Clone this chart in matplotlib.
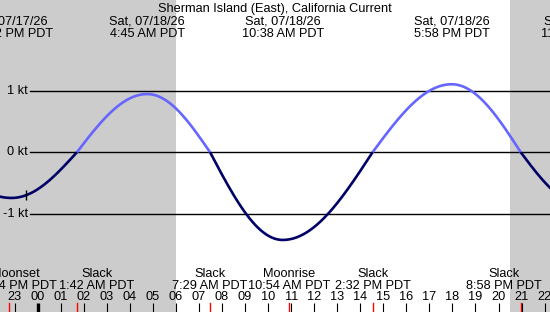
import numpy as np
import matplotlib
matplotlib.use("Agg")
import matplotlib.pyplot as plt
from matplotlib.transforms import blended_transform_factory

# hours relative to midnight, Sat 07/18/26
tide_hours = [-4.46, -1.133, 1.7, 4.75, 7.483, 10.633, 14.533, 17.967, 20.967, 23.63]
tide_knots = [0.0, -0.745, 0.0, 0.95, 0.0, -1.43, 0.0, 1.11, 0.0, -0.85]

peak_hours = [-1.133, 4.75, 10.633, 17.967, 23.63]
peak_dates = ["Fri, 07/17/26", "Sat, 07/18/26", "Sat, 07/18/26", "Sat, 07/18/26", "Sat, 07/18/26"]
peak_times = ["10:52 PM PDT", "4:45 AM PDT", "10:38 AM PDT", "5:58 PM PDT", "11:38 PM PDT"]

event_hours = [-1.267, 1.7, 7.483, 10.9, 14.533, 20.967]
event_names = ["Moonset", "Slack", "Slack", "Moonrise", "Slack", "Slack"]
event_times = ["10:44 PM PDT", "1:42 AM PDT", "7:29 AM PDT", "10:54 AM PDT", "2:32 PM PDT", "8:58 PM PDT"]

sunrise = 6.0
sunset = 20.5
now_hour = -0.52
y_levels = [1, 0, -1]
y_labels = ["1 kt", "0 kt", "-1 kt"]

W, H = 550, 312
PX = 23.04          # pixels per hour
X0 = 37.7           # pixel of midnight
KT = 61.3           # pixels per knot
Y0 = 152.3          # pixel of 0 kt

plt.rcParams['font.family'] = ['Liberation Sans', 'DejaVu Sans']
FS = 9.2

fig = plt.figure(figsize=(W / 100, H / 100), dpi=100)
ax = fig.add_axes([0, 0, 1, 1])
ax.set_xlim(-X0 / PX, (W - X0) / PX)
ax.set_ylim(-(H - Y0) / KT, Y0 / KT)
ax.axis('off')

# night shading
ax.axvspan(-10, sunrise, color='#cccccc', lw=0, zorder=0)
ax.axvspan(sunset, 30, color='#cccccc', lw=0, zorder=0)

# grid lines
for lv, lab in zip(y_levels, y_labels):
    ax.axhline(lv, xmin=30 / W, xmax=1, color='black', lw=1, zorder=1)
    ax.text(-(X0 - 28) / PX, lv, lab, ha='right', va='center', fontsize=FS, zorder=3)

# curve: quarter-cosine segments between slack and extreme points
xs, ys = [], []
for i in range(len(tide_hours) - 1):
    t0, t1 = tide_hours[i], tide_hours[i + 1]
    v0, v1 = tide_knots[i], tide_knots[i + 1]
    f = np.linspace(0, 1, 80)
    if v0 == 0:
        v = v1 * np.sin(np.pi / 2 * f)
    else:
        v = v0 * np.cos(np.pi / 2 * f)
    xs.append(t0 + (t1 - t0) * f)
    ys.append(v)
xs = np.concatenate(xs)
ys = np.concatenate(ys)
ax.plot(xs, np.where(ys >= 0, ys, np.nan), color='#6666ff', lw=1.9, zorder=2, solid_capstyle='butt')
ax.plot(xs, np.where(ys <= 0, ys, np.nan), color='#000066', lw=1.9, zorder=2, solid_capstyle='butt')

now_val = np.interp(now_hour, xs, ys)
ax.plot([now_hour], [now_val], marker='|', color='black', ms=7, mew=1, zorder=3)

tr = blended_transform_factory(ax.transData, fig.transFigure)


def py(p):
    return 1 - p / H


fig.text(0.5, py(12), "Sherman Island (East), California Current", ha='center', va='baseline', fontsize=FS)
for h, d, t in zip(peak_hours, peak_dates, peak_times):
    ax.text(h, py(24.5), d, transform=tr, ha='center', va='baseline', fontsize=FS)
    ax.text(h, py(37), t, transform=tr, ha='center', va='baseline', fontsize=FS)

# bottom event labels (shifted where the original nudges them)
label_shift = {0: 7, 1: 20, 5: -17}
for i, (h, n, t) in enumerate(zip(event_hours, event_names, event_times)):
    hx = h + label_shift.get(i, 0) / PX
    ax.text(hx, py(277.3), n, transform=tr, ha='center', va='baseline', fontsize=FS)
    ax.text(hx, py(289.3), t, transform=tr, ha='center', va='baseline', fontsize=FS)
    ax.plot([h, h], [py(303), py(312)], transform=tr, color='red', lw=1, zorder=3)

for h in range(-1, 23):
    ax.text(h, py(300), f"{h % 24:02d}", transform=tr, ha='center', va='baseline', fontsize=FS)
    ax.plot([h, h], [py(303), py(312)], transform=tr, color='black',
            lw=2.4 if h == 0 else 0.8, zorder=3, solid_capstyle='butt')

fig.savefig("out.png", dpi=100)
